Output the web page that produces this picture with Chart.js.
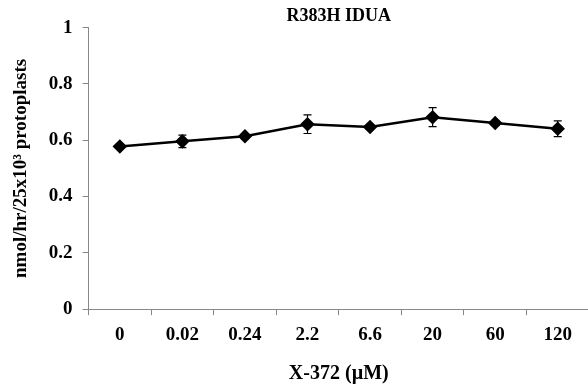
<!DOCTYPE html>
<html>
<head>
<meta charset="utf-8">
<script src="https://cdn.jsdelivr.net/npm/chart.js@4.4.1/dist/chart.umd.min.js"></script>
<style>
  html, body { margin: 0; padding: 0; background: #fff; overflow: hidden; }
  #wrap { width: 597px; height: 390px; }
</style>
</head>
<body>
<div id="wrap"><canvas id="chart"></canvas></div>
<script>
// concentrations of X-372 (uM)
const doses = ['0', '0.02', '0.24', '2.2', '6.6', '20', '60', '120'];
// IDUA activity, nmol/hr/25x10^3 protoplasts
const activity = [0.578, 0.596, 0.614, 0.657, 0.647, 0.682, 0.661, 0.641];
const errors = [0.006, 0.022, 0.008, 0.033, 0.007, 0.034, 0.008, 0.028];

const serif = "'Liberation Serif', 'Times New Roman', serif";

// draws the error bars using the chart scales
const errorBars = {
  id: 'errorBars',
  afterDatasetsDraw(chart) {
    const { ctx, scales: { x, y } } = chart;
    ctx.save();
    ctx.strokeStyle = '#000';
    ctx.lineWidth = 1.2;
    activity.forEach((v, i) => {
      const px = x.getPixelForValue(i);
      const top = y.getPixelForValue(v + errors[i]);
      const bot = y.getPixelForValue(v - errors[i]);
      ctx.beginPath();
      ctx.moveTo(px, top); ctx.lineTo(px, bot);
      ctx.moveTo(px - 4, top); ctx.lineTo(px + 4, top);
      ctx.moveTo(px - 4, bot); ctx.lineTo(px + 4, bot);
      ctx.stroke();
    });
    ctx.restore();
  }
};

new Chart(document.getElementById('chart'), {
  type: 'line',
  data: {
    labels: doses,
    datasets: [{
      data: activity,
      borderColor: '#000',
      borderWidth: 2.5,
      pointStyle: 'rectRot',
      pointRadius: 5.5,
      pointBackgroundColor: '#000',
      pointBorderColor: '#000',
      tension: 0
    }]
  },
  options: {
    responsive: true,
    maintainAspectRatio: false,
    animation: false,
    layout: { padding: { top: 0, right: 0, bottom: 4, left: 10 } },
    plugins: {
      legend: { display: false },
      tooltip: { enabled: false },
      title: {
        display: true,
        text: 'R383H IDUA',
        fullSize: false,
        color: '#000',
        font: { family: serif, size: 18, weight: 'bold' },
        padding: { top: 6, bottom: 0 }
      }
    },
    scales: {
      x: {
        offset: true,
        border: { color: '#888', width: 1 },
        grid: { drawOnChartArea: false, color: '#888', tickLength: 6, offset: true },
        ticks: { color: '#000', padding: 8, maxRotation: 0, font: { family: serif, size: 19, weight: 'bold' } },
        title: {
          display: true,
          text: 'X-372 (\u00b5M)',
          color: '#000',
          font: { family: serif, size: 20, weight: 'bold' },
          padding: { top: 8, bottom: 0 }
        }
      },
      y: {
        min: 0,
        max: 1,
        border: { color: '#888', width: 1 },
        grid: { drawOnChartArea: false, color: '#888', tickLength: 6 },
        ticks: {
          stepSize: 0.2,
          color: '#000',
          padding: 10,
          font: { family: serif, size: 19, weight: 'bold' },
          callback: (v) => String(+v.toFixed(1))
        },
        title: {
          display: true,
          text: 'nmol/hr/25x10\u00b3 protoplasts',
          color: '#000',
          font: { family: serif, size: 19, weight: 'bold' },
          padding: { top: 0, bottom: 6 }
        }
      }
    }
  },
  plugins: [errorBars]
});
</script>
</body>
</html>
